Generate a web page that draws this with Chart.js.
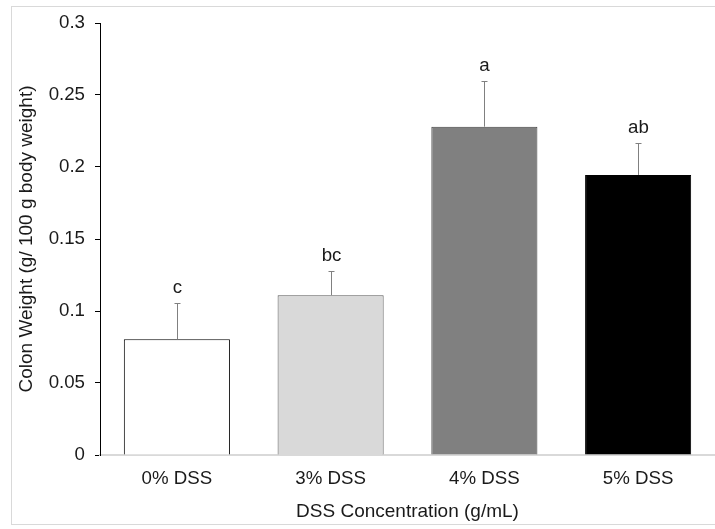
<!DOCTYPE html>
<html>
<head>
<meta charset="utf-8">
<script src="https://cdn.jsdelivr.net/npm/chart.js@4.4.1/dist/chart.umd.min.js"></script>
<style>
html,body{margin:0;padding:0;background:#fff;}
#wrap{position:absolute;left:0;top:0;width:715px;height:529px;}
</style>
</head>
<body>
<div id="wrap"><canvas id="c" width="715" height="529"></canvas></div>
<script>
const categories = ["0% DSS", "3% DSS", "4% DSS", "5% DSS"];
const meanWeight = [0.0803, 0.111, 0.228, 0.1945];
const errorTop = [0.1053, 0.128, 0.2595, 0.2165];
const groupLetters = ["c", "bc", "a", "ab"];
const yTicks = [0, 0.05, 0.1, 0.15, 0.2, 0.25, 0.3];

const barFill = ["#ffffff", "#d9d9d9", "#808080", "#000000"];
const barEdge = ["#000000", "#595959", "#404040", "#000000"];
const FONT = "'Liberation Sans', Arial, sans-serif";
const TXT = '#1a1a1a';

const extras = {
  id: 'extras',
  beforeDraw(chart) {
    const ctx = chart.ctx;
    ctx.save();
    ctx.fillStyle = '#fff';
    ctx.fillRect(0, 0, chart.width, chart.height);
    ctx.strokeStyle = '#d9d9d9';
    ctx.lineWidth = 1;
    ctx.strokeRect(11.5, 6.5, 720, 518);
    ctx.restore();
  },
  afterDatasetsDraw(chart) {
    const ctx = chart.ctx;
    const xs = chart.scales.x, ys = chart.scales.y;
    ctx.save();
    ctx.strokeStyle = '#808080';
    ctx.lineWidth = 1;
    ctx.fillStyle = TXT;
    ctx.font = '18.7px ' + FONT;
    ctx.textAlign = 'center';
    ctx.textBaseline = 'middle';
    errorTop.forEach((v, i) => {
      const x = Math.round(xs.getPixelForValue(i)) + 0.5;
      const y0 = ys.getPixelForValue(meanWeight[i]);
      const y1 = Math.round(ys.getPixelForValue(v)) + 0.5;
      ctx.beginPath();
      ctx.moveTo(x, y0);
      ctx.lineTo(x, y1);
      ctx.moveTo(x - 3, y1);
      ctx.lineTo(x + 3, y1);
      ctx.stroke();
      ctx.fillText(groupLetters[i], x, y1 - 16);
    });
    ctx.restore();
  }
};

new Chart(document.getElementById('c'), {
  type: 'bar',
  data: {
    labels: categories,
    datasets: [{
      data: meanWeight,
      backgroundColor: barFill,
      borderColor: barEdge,
      borderWidth: 1,
      borderSkipped: 'bottom',
      barPercentage: 1,
      categoryPercentage: 0.69
    }]
  },
  options: {
    responsive: false,
    animation: false,
    devicePixelRatio: 1,
    layout: { padding: { left: 0, right: 0, top: 23, bottom: 0 } },
    plugins: { legend: { display: false }, tooltip: { enabled: false } },
    scales: {
      x: {
        grid: { display: false, drawTicks: false },
        border: { display: true, color: '#d9d9d9', width: 2 },
        ticks: { color: TXT, font: { family: FONT, size: 18.7 }, padding: 13 },
        title: { display: true, text: 'DSS Concentration (g/mL)', color: TXT, font: { family: FONT, size: 19 }, padding: { top: 6, bottom: 6 } },
        afterFit(s) { s.height = 74; }
      },
      y: {
        min: 0, max: 0.3,
        afterBuildTicks(s) { s.ticks = yTicks.map(v => ({ value: v })); },
        ticks: {
          color: TXT,
          font: { family: FONT, size: 18.7 },
          padding: 10,
          callback: (v) => String(Number(v.toFixed(2)))
        },
        grid: { display: true, drawOnChartArea: false, drawTicks: true, tickLength: 5, color: '#000' },
        border: { display: true, color: '#000', width: 1 },
        title: { display: true, text: 'Colon Weight (g/ 100 g body weight)', color: TXT, font: { family: FONT, size: 19 }, padding: { top: 15, bottom: 6 } },
        afterFit(s) { s.width = 100; }
      }
    }
  },
  plugins: [extras]
});
</script>
</body>
</html>
